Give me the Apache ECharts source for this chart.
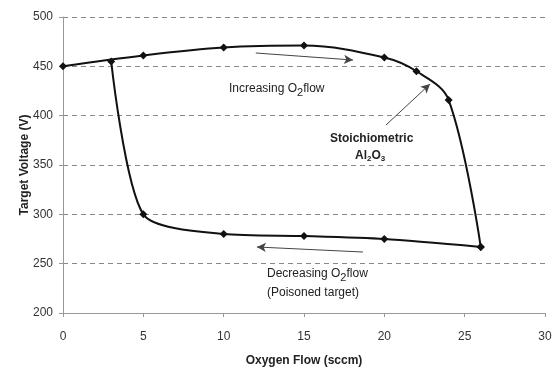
<!DOCTYPE html>
<html><head><meta charset="utf-8">
<script src="https://cdn.jsdelivr.net/npm/echarts@6/dist/echarts.min.js"></script>
<style>html,body{margin:0;padding:0;background:#fff}#c{width:556px;height:367px}</style>
</head><body><div id="c"></div>
<script>
// Data
const increasingFlow = [0, 5, 10, 15, 20, 22, 24, 26];
const increasingVoltage = [450, 461, 469, 471, 459, 445, 416, 267];
const decreasingFlow = [26, 20, 15, 10, 5, 3];
const decreasingVoltage = [267, 275, 278, 280, 300, 455];
const xTicks = [0, 5, 10, 15, 20, 25, 30];
const yTicks = [200, 250, 300, 350, 400, 450, 500];

const pairs = (xs, ys) => xs.map((x, i) => [x, ys[i]]);
const font = '"Liberation Sans", Arial, sans-serif';
const arrowLine = { color: '#444', width: 1, type: 'solid' };

const chart = echarts.init(document.getElementById('c'), null, { renderer: 'canvas' });
chart.setOption({
  animation: false,
  backgroundColor: '#fff',
  textStyle: { fontFamily: font },
  grid: { left: 63, right: 11, top: 17, bottom: 54, containLabel: false, outerBoundsMode: 'none' },
  xAxis: {
    type: 'value', min: xTicks[0], max: xTicks[xTicks.length - 1], interval: 5,
    name: 'Oxygen Flow (sccm)', nameLocation: 'middle', nameGap: 42, nameMoveOverlap: false,
    nameTextStyle: { fontFamily: font, fontSize: 12, fontWeight: 'bold', color: '#222' },
    axisLine: { lineStyle: { color: '#999', width: 1 } },
    axisTick: { show: true, length: 4, lineStyle: { color: '#999' } },
    axisLabel: { fontFamily: font, fontSize: 12, color: '#333', margin: 18 },
    splitLine: { show: false }
  },
  yAxis: {
    type: 'value', min: yTicks[0], max: yTicks[yTicks.length - 1], interval: 50,
    name: 'Target Voltage (V)', nameLocation: 'middle', nameGap: 32, nameMoveOverlap: false,
    nameTextStyle: { fontFamily: font, fontSize: 12, fontWeight: 'bold', color: '#222' },
    axisLine: { show: true, lineStyle: { color: '#999', width: 1 } },
    axisTick: { show: true, length: 4, lineStyle: { color: '#999' } },
    axisLabel: { fontFamily: font, fontSize: 12, color: '#333', margin: 10 },
    splitLine: { show: true, lineStyle: { color: '#888', type: [5, 4], width: 1 } }
  },
  series: [
    {
      type: 'line', data: pairs(increasingFlow, increasingVoltage), smooth: 0.35,
      symbol: 'diamond', symbolSize: 8,
      lineStyle: { color: '#111', width: 2 }, itemStyle: { color: '#111' },
      markLine: {
        silent: true, symbol: ['none', 'arrow'], symbolSize: [7, 9], label: { show: false },
        lineStyle: arrowLine,
        data: [
          [{ coord: [12.0, 463.5] }, { coord: [18.05, 456.4] }],
          [{ coord: [20.1, 390.5] }, { coord: [22.84, 432] }]
        ]
      }
    },
    {
      type: 'line', data: pairs(decreasingFlow, decreasingVoltage), smooth: 0.25,
      symbol: 'diamond', symbolSize: 8,
      lineStyle: { color: '#111', width: 2 }, itemStyle: { color: '#111' },
      markLine: {
        silent: true, symbol: ['none', 'arrow'], symbolSize: [7, 9], label: { show: false },
        lineStyle: arrowLine,
        data: [
          [{ coord: [18.67, 261.8] }, { coord: [12.07, 266.9] }]
        ]
      }
    }
  ],
  graphic: [
    {
      type: 'text', left: 229, top: 83,
      style: {
        text: '{a|Increasing O}{s|2}{a|flow}',
        rich: {
          a: { fontFamily: font, fontSize: 12, fill: '#222', verticalAlign: 'top' },
          s: { fontFamily: font, fontSize: 11, fill: '#222', verticalAlign: 'top', padding: [4, 0, 0, 0] }
        }
      }
    },
    {
      type: 'text', left: 330, top: 133,
      style: { text: 'Stoichiometric', fontFamily: font, fontSize: 12, fontWeight: 'bold', fill: '#222' }
    },
    {
      type: 'text', left: 355, top: 150,
      style: {
        text: '{a|Al}{s|2}{a|O}{s|3}',
        rich: {
          a: { fontFamily: font, fontSize: 12, fontWeight: 'bold', fill: '#222', verticalAlign: 'top' },
          s: { fontFamily: font, fontSize: 8, fontWeight: 'bold', fill: '#222', verticalAlign: 'top', padding: [5, 0, 0, 0] }
        }
      }
    },
    {
      type: 'text', left: 267, top: 268,
      style: {
        text: '{a|Decreasing O}{s|2}{a|flow}',
        rich: {
          a: { fontFamily: font, fontSize: 12, fill: '#222', verticalAlign: 'top' },
          s: { fontFamily: font, fontSize: 11, fill: '#222', verticalAlign: 'top', padding: [4, 0, 0, 0] }
        }
      }
    },
    {
      type: 'text', left: 267, top: 287,
      style: { text: '(Poisoned target)', fontFamily: font, fontSize: 12, fill: '#222' }
    }
  ]
});
</script></body></html>
